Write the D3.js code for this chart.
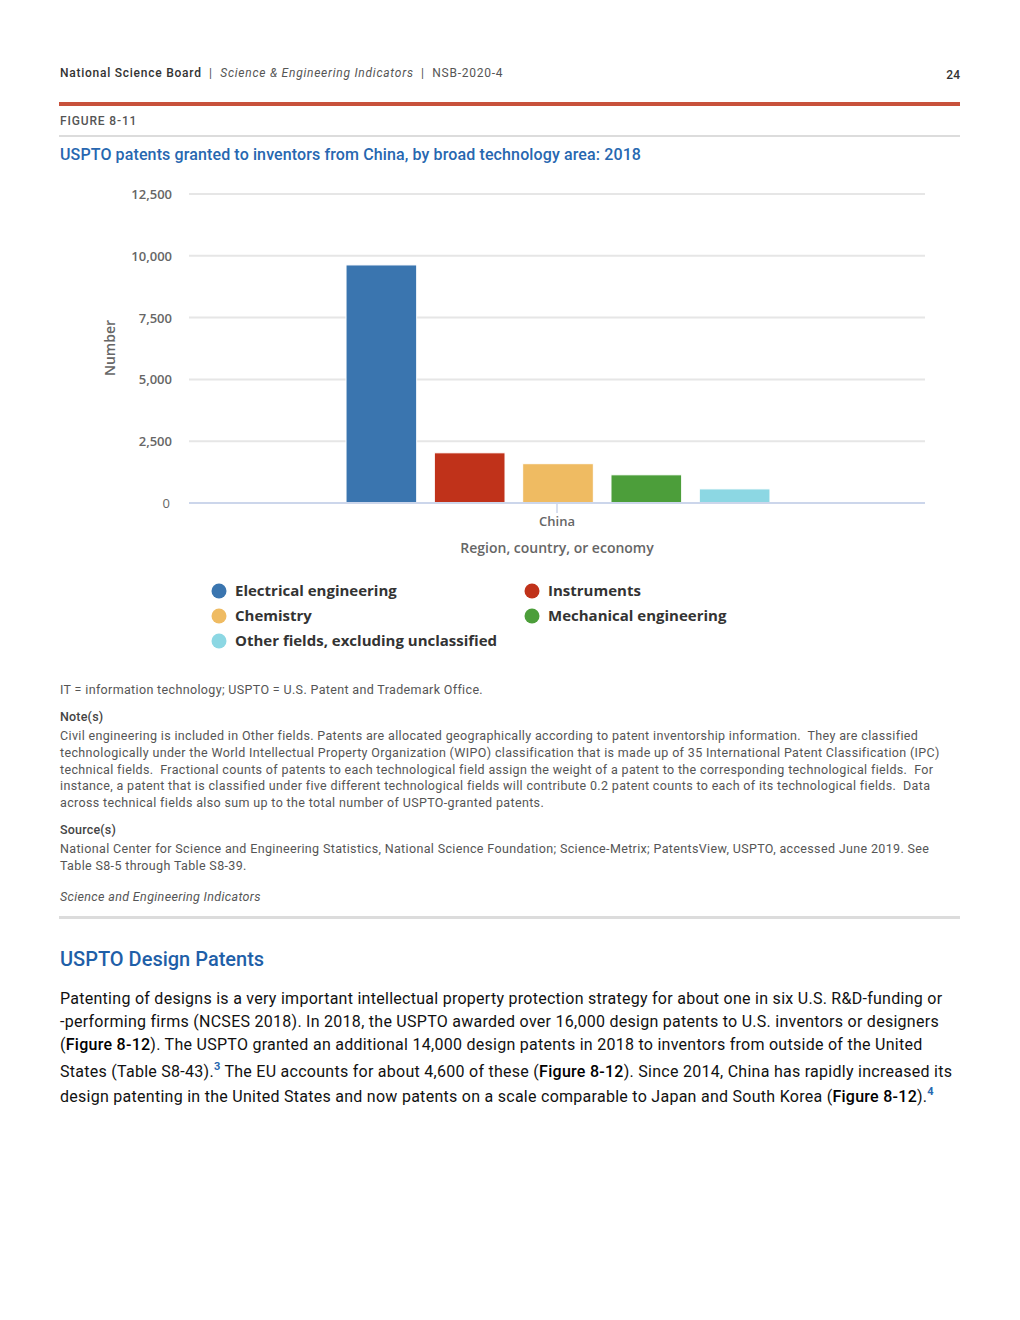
<!DOCTYPE html>
<html>
<head>
<meta charset="utf-8">
<script src="https://cdn.jsdelivr.net/npm/d3@7"></script>
<style>
  html, body { margin: 0; padding: 0; background: #fff; }
  svg { display: block; }
  text { white-space: pre; }
</style>
</head>
<body>
<svg id="page" width="1020" height="1320"></svg>
<script>
// ---- Data ----
const categories = ["China"];
const seriesNames = ["Electrical engineering", "Instruments", "Chemistry", "Mechanical engineering", "Other fields, excluding unclassified"];
const seriesValues = [9630, 2030, 1590, 1140, 570];
const seriesColors = ["#3a75af", "#c0321a", "#efbb62", "#4c9e3a", "#8cd7e3"];
const yTicks = [0, 2500, 5000, 7500, 10000, 12500];

const noteLines = [
  "Civil engineering is included in Other fields. Patents are allocated geographically according to patent inventorship information.  They are classified",
  "technologically under the World Intellectual Property Organization (WIPO) classification that is made up of 35 International Patent Classification (IPC)",
  "technical fields.  Fractional counts of patents to each technological field assign the weight of a patent to the corresponding technological fields.  For",
  "instance, a patent that is classified under five different technological fields will contribute 0.2 patent counts to each of its technological fields.  Data",
  "across technical fields also sum up to the total number of USPTO-granted patents."
];
const sourceLines = [
  "National Center for Science and Engineering Statistics, National Science Foundation; Science-Metrix; PatentsView, USPTO, accessed June 2019. See",
  "Table S8-5 through Table S8-39."
];

const svg = d3.select("#page");
const roboto = "Roboto, 'Liberation Sans', sans-serif";
const openSans = "'Open Sans', 'DejaVu Sans', sans-serif";

// ---- Header ----
const hdr = svg.append("text").attr("x", 60).attr("y", 77).attr("font-family", roboto).attr("font-size", 12)
  .attr("fill", "#333").attr("letter-spacing", 0.75);
hdr.append("tspan").attr("font-weight", 500).text("National Science Board");
hdr.append("tspan").attr("fill", "#555").text("  |  ");
hdr.append("tspan").attr("font-style", "italic").attr("fill", "#555").text("Science & Engineering Indicators");
hdr.append("tspan").attr("fill", "#555").text("  |  NSB-2020-4");
svg.append("text").attr("x", 960).attr("y", 79).attr("text-anchor", "end").attr("font-family", roboto)
  .attr("font-size", 12).attr("font-weight", 500).attr("fill", "#333").text("24");

svg.append("rect").attr("x", 59).attr("y", 102).attr("width", 901).attr("height", 4).attr("fill", "#c8513b");
svg.append("text").attr("x", 60).attr("y", 125).attr("font-family", roboto).attr("font-size", 12)
  .attr("font-weight", 500).attr("fill", "#555").attr("letter-spacing", 0.85).text("FIGURE 8-11");
svg.append("rect").attr("x", 59).attr("y", 135).attr("width", 901).attr("height", 2).attr("fill", "#dcdcdc");
svg.append("text").attr("x", 60).attr("y", 160).attr("font-family", roboto).attr("font-size", 16)
  .attr("font-weight", 500).attr("fill", "#2767b0").attr("letter-spacing", 0.12)
  .text("USPTO patents granted to inventors from China, by broad technology area: 2018");

// ---- Chart ----
const plot = { left: 189, right: 925, top: 194, bottom: 503 };
const y = d3.scaleLinear().domain([0, 12500]).range([plot.bottom, plot.top]);
const x0 = d3.scaleBand().domain(categories).range([plot.left, plot.right]).padding(0);

const g = svg.append("g");
g.selectAll("line.grid").data(yTicks.filter(d => d > 0)).join("line")
  .attr("x1", plot.left).attr("x2", plot.right)
  .attr("y1", d => y(d)).attr("y2", d => y(d))
  .attr("stroke", "#e6e6e6").attr("stroke-width", 2);

const yAxis = d3.axisLeft(y).tickValues(yTicks).tickSize(0).tickPadding(0)
  .tickFormat(d => d3.format(",")(d));
const ya = g.append("g").attr("transform", `translate(${172},0)`).call(yAxis);
ya.select(".domain").remove();
ya.selectAll("text").attr("font-family", openSans).attr("font-size", 13).attr("font-weight", 600)
  .attr("fill", "#666").attr("dy", "0.35em").attr("x", 0);
ya.selectAll(".tick").filter(d => d === 0).select("text").attr("font-weight", 400).attr("x", -2);

categories.forEach(cat => {
  const bw = x0.bandwidth();
  const gx = x0(cat);
  const x1 = d3.scaleBand().domain(seriesNames)
    .range([gx + 0.2 * bw, gx + 0.8 * bw]).paddingInner(0.2).paddingOuter(0.1);
  g.selectAll("rect.bar").data(seriesNames.map((s, i) => ({ s, v: seriesValues[i], c: seriesColors[i] })))
    .join("rect")
    .attr("x", d => x1(d.s) + 1).attr("width", x1.bandwidth())
    .attr("y", d => y(d.v)).attr("height", d => y(0) - y(d.v))
    .attr("fill", d => d.c).attr("stroke", "#fff").attr("stroke-width", 1);
});

const xAxis = d3.axisBottom(x0).tickSize(10).tickPadding(4);
const xa = g.append("g").attr("transform", `translate(0,${plot.bottom})`).call(xAxis);
xa.select(".domain").attr("stroke", "#ccd6eb").attr("stroke-width", 2).attr("d", `M${plot.left},0H${plot.right}`);
xa.selectAll(".tick line").attr("stroke", "#ccd6eb").attr("stroke-width", 1.5);
xa.selectAll(".tick text").attr("font-family", openSans).attr("font-size", 13).attr("font-weight", 600)
  .attr("fill", "#666").attr("y", 14);

svg.append("text").attr("transform", "translate(115,348) rotate(-90)").attr("text-anchor", "middle")
  .attr("font-family", openSans).attr("font-size", 14).attr("font-weight", 600).attr("fill", "#666").text("Number");
svg.append("text").attr("x", 557).attr("y", 553).attr("text-anchor", "middle")
  .attr("font-family", openSans).attr("font-size", 14).attr("font-weight", 600).attr("fill", "#666")
  .text("Region, country, or economy");

const legendPos = [[219, 591], [532, 591], [219, 616], [532, 616], [219, 641]];
const lg = svg.append("g").selectAll("g").data(seriesNames).join("g")
  .attr("transform", (d, i) => `translate(${legendPos[i][0]},${legendPos[i][1]})`);
lg.append("circle").attr("r", 7.5).attr("fill", (d, i) => seriesColors[i]);
lg.append("text").attr("x", 16).attr("dy", "0.35em").attr("font-family", openSans).attr("font-size", 15)
  .attr("font-weight", 700).attr("fill", "#333").text(d => d);

// ---- Notes ----
const small = (txt, yy, opts = {}) => svg.append("text").attr("x", 60).attr("y", yy).attr("font-family", roboto)
  .attr("font-size", 12.5).attr("fill", opts.fill || "#555").attr("font-weight", opts.weight || 400)
  .attr("letter-spacing", opts.ls != null ? opts.ls : 0.35)
  .attr("font-style", opts.italic ? "italic" : null).text(txt);
small("IT = information technology; USPTO = U.S. Patent and Trademark Office.", 694);
small("Note(s)", 721, { weight: 500, fill: "#444", ls: 0.2 });
noteLines.forEach((t, i) => small(t, 740 + i * 16.8));
small("Source(s)", 834, { weight: 500, fill: "#444", ls: 0.2 });
sourceLines.forEach((t, i) => small(t, 853 + i * 16.5));
small("Science and Engineering Indicators", 901, { italic: true });
svg.append("rect").attr("x", 59).attr("y", 916).attr("width", 901).attr("height", 3).attr("fill", "#dcdcdc");

// ---- Section ----
svg.append("text").attr("x", 60).attr("y", 966).attr("font-family", roboto).attr("font-size", 20)
  .attr("font-weight", 500).attr("fill", "#1f5fa8").text("USPTO Design Patents");

const body = [
  [["Patenting of designs is a very important intellectual property protection strategy for about one in six U.S. R&D-funding or", 0]],
  [["-performing firms (NCSES 2018). In 2018, the USPTO awarded over 16,000 design patents to U.S. inventors or designers", 0]],
  [["(", 0], ["Figure 8-12", 1], ["). The USPTO granted an additional 14,000 design patents in 2018 to inventors from outside of the United", 0]],
  [["States (Table S8-43).", 0], ["3", 2], [" The EU accounts for about 4,600 of these (", 0], ["Figure 8-12", 1], ["). Since 2014, China has rapidly increased its", 0]],
  [["design patenting in the United States and now patents on a scale comparable to Japan and South Korea (", 0], ["Figure 8-12", 1], [").", 0], ["4", 2]]
];
const bodyY = [1004, 1027, 1050, 1077, 1102];
body.forEach((parts, i) => {
  const t = svg.append("text").attr("x", 60).attr("y", bodyY[i]).attr("font-family", roboto)
    .attr("font-size", 16).attr("fill", "#111").attr("letter-spacing", 0.27);
  let prevSup = false;
  parts.forEach(([s, k]) => {
    const ts = t.append("tspan").text(s);
    if (k === 1) ts.attr("font-weight", 500).attr("fill", "#000");
    if (k === 2) ts.attr("font-size", 11).attr("font-weight", 700).attr("fill", "#2767b0").attr("dy", -7);
    else if (prevSup) ts.attr("dy", 7);
    prevSup = k === 2;
  });
});
</script>
</body>
</html>
